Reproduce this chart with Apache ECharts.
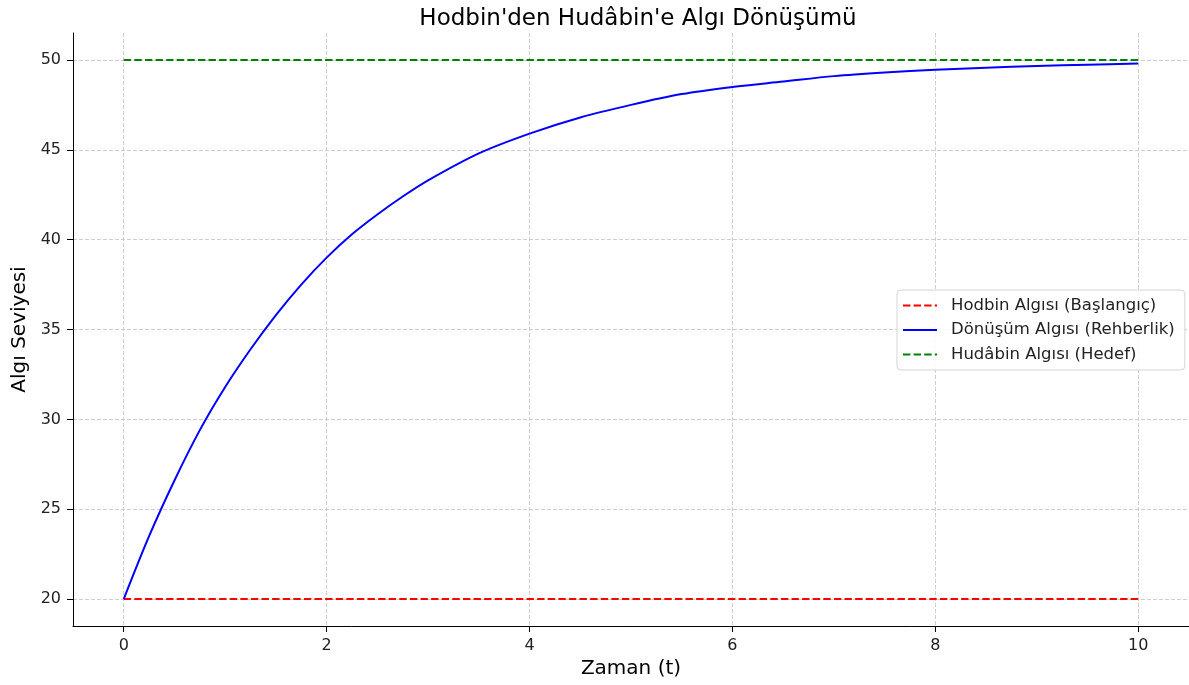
<!DOCTYPE html>
<html>
<head>
<meta charset="utf-8">
<script src="https://cdn.jsdelivr.net/npm/echarts@6/dist/echarts.min.js"></script>
<style>
html,body{margin:0;padding:0;background:#fff;}
#chart{width:1189px;height:685px;}
</style>
</head>
<body>
<div id="chart"></div>
<script>
// Data
const tValues = [0, 0.25, 0.5, 0.75, 1, 1.25, 1.5, 1.75, 2, 2.25, 2.5, 2.75, 3, 3.5, 4, 4.5, 5, 5.5, 6, 6.5, 7, 7.5, 8, 8.5, 9, 9.5, 10];
const transformValues = [20.0, 23.5, 26.6, 29.4, 31.8, 33.9, 35.8, 37.5, 39.0, 40.3, 41.4, 42.4, 43.3, 44.8, 45.9, 46.8, 47.5, 48.1, 48.5, 48.8, 49.1, 49.3, 49.45, 49.57, 49.67, 49.74, 49.8];
const startLevel = 20;
const targetLevel = 50;
const tRange = [0, 10];
const xTicks = [0, 2, 4, 6, 8, 10];
const yTicks = [20, 25, 30, 35, 40, 45, 50];
const seriesNames = ['Hodbin Algısı (Başlangıç)', 'Dönüşüm Algısı (Rehberlik)', 'Hudâbin Algısı (Hedef)'];
const titleText = "Hodbin'den Hudâbin'e Algı Dönüşümü";
const xName = 'Zaman (t)';
const yName = 'Algı Seviyesi';

const FONT = 'DejaVu Sans';
const chart = echarts.init(document.getElementById('chart'), null, {renderer: 'canvas'});
const gridLine = {show: true, lineStyle: {color: '#c8c8c8', type: [4, 2], width: 0.9}};
chart.setOption({
  animation: false,
  backgroundColor: '#fff',
  textStyle: {fontFamily: FONT},
  title: {
    text: titleText, left: 633, top: 3, textAlign: 'center',
    textStyle: {fontFamily: FONT, fontSize: 23, fontWeight: 'normal', color: '#000'}
  },
  grid: {left: 73, top: 33, right: -4, bottom: 59, containLabel: false},
  legend: {
    orient: 'vertical', left: 897, top: 290,
    data: seriesNames,
    itemWidth: 34, itemHeight: 14, itemGap: 7.5,
    padding: [7, 10, 7, 5],
    borderColor: '#d5d5d5', borderWidth: 1, borderRadius: 4,
    backgroundColor: 'rgba(255,255,255,0.85)',
    itemStyle: {opacity: 0},
    textStyle: {fontFamily: FONT, fontSize: 16.5, color: '#222', padding: [0, 0, 0, 9]}
  },
  xAxis: {
    type: 'value', min: -0.5, max: 10.5,
    name: xName, nameLocation: 'middle', nameGap: 32,
    nameTextStyle: {fontFamily: FONT, fontSize: 20, color: '#000'},
    axisLine: {show: true, onZero: false, lineStyle: {color: '#000', width: 1}},
    axisTick: {show: true, customValues: xTicks, length: 6, lineStyle: {color: '#000'}},
    axisLabel: {customValues: xTicks, fontFamily: FONT, fontSize: 16, color: '#222', margin: 12},
    splitLine: gridLine
  },
  yAxis: {
    type: 'value', min: 18.5, max: 51.5,
    name: yName, nameLocation: 'middle', nameGap: 43, nameRotate: 90,
    nameTextStyle: {fontFamily: FONT, fontSize: 20, color: '#000'},
    axisLine: {show: true, onZero: false, lineStyle: {color: '#000', width: 1}},
    axisTick: {show: true, customValues: yTicks, length: 6, lineStyle: {color: '#000'}},
    axisLabel: {customValues: yTicks, fontFamily: FONT, fontSize: 16, color: '#222', margin: 12},
    splitLine: gridLine
  },
  series: [
    {
      name: seriesNames[0], type: 'line', symbol: 'none',
      data: [[tRange[0], startLevel], [tRange[1], startLevel]],
      lineStyle: {color: '#ff0000', width: 2, type: [7.4, 3.2]},
      itemStyle: {color: '#ff0000'}, z: 3
    },
    {
      name: seriesNames[1], type: 'line', symbol: 'none', smooth: 0.3,
      data: tValues.map((t, i) => [t, transformValues[i]]),
      lineStyle: {color: '#0000ff', width: 2},
      itemStyle: {color: '#0000ff'}, z: 4
    },
    {
      name: seriesNames[2], type: 'line', symbol: 'none',
      data: [[tRange[0], targetLevel], [tRange[1], targetLevel]],
      lineStyle: {color: '#008000', width: 2, type: [7.4, 3.2]},
      itemStyle: {color: '#008000'}, z: 5
    }
  ]
});
</script>
</body>
</html>
